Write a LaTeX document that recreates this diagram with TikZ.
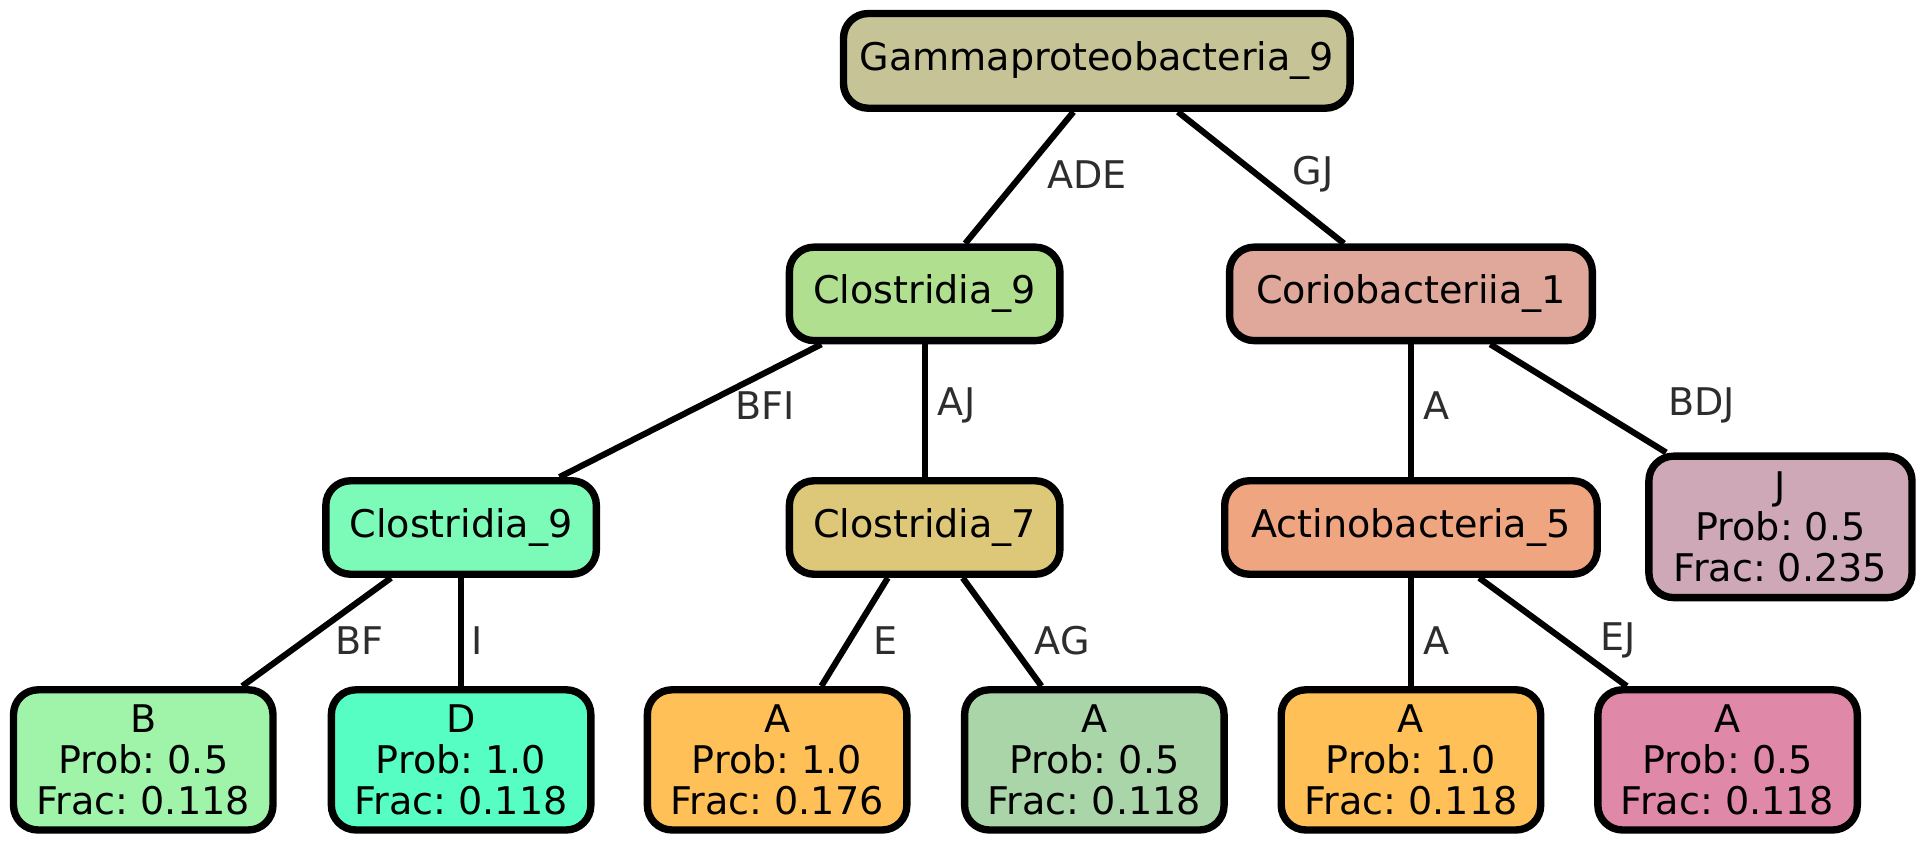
\documentclass[tikz,border=0pt]{standalone}
\usepackage{fontspec}
\setmainfont{DejaVu Sans}
\frenchspacing
\definecolor{cRoot}{RGB}{198,195,150}
\definecolor{cCloMid}{RGB}{176,223,144}
\definecolor{cCorio}{RGB}{224,168,154}
\definecolor{cCloLeft}{RGB}{124,250,184}
\definecolor{cClo7}{RGB}{221,200,122}
\definecolor{cActino}{RGB}{239,165,128}
\definecolor{cJ}{RGB}{207,168,184}
\definecolor{cB}{RGB}{160,244,170}
\definecolor{cD}{RGB}{87,254,196}
\definecolor{cOrange}{RGB}{255,192,87}
\definecolor{cGreen}{RGB}{170,213,168}
\definecolor{cPink}{RGB}{224,136,168}
\definecolor{labelgrey}{RGB}{45,45,45}
\begin{document}
\begin{tikzpicture}[x=1pt,y=-1pt,
  box/.style={draw=black, line width=6pt, rounded corners=20pt, inner sep=0pt,
    align=center, font=\fontsize{31}{33.5}\selectfont},
  inner/.style={box, minimum width=220pt, minimum height=76pt},
  leaf/.style={box, minimum width=211pt, minimum height=114pt},
  lbl/.style={text=labelgrey, font=\fontsize{31}{33.5}\selectfont, inner sep=0pt},
  link/.style={line width=5pt}]
\useasboundingbox (0,0) rectangle (1568,688);

% internal nodes
\node[box, fill=cRoot, minimum width=412pt, minimum height=77pt] (root) at (892,49.5) {Gammaproteobacteria\_9};
\node[inner, fill=cCloMid] (cmid) at (752,239) {Clostridia\_9};
\node[inner, fill=cCorio, minimum width=295pt] (corio) at (1147.5,239) {Coriobacteriia\_1};
\node[inner, fill=cCloLeft] (cleft) at (375,429) {Clostridia\_9};
\node[inner, fill=cClo7] (c7) at (752,429) {Clostridia\_7};
\node[inner, fill=cActino, minimum width=303pt] (actino) at (1147.5,429) {Actinobacteria\_5};

% leaves
\node[leaf, fill=cJ, minimum width=214pt, minimum height=115pt] (lJ) at (1448,428.5) {J\\Prob: 0.5\\Frac: 0.235};
\node[leaf, fill=cB] (lB) at (116.5,618) {B\\Prob: 0.5\\Frac: 0.118};
\node[leaf, fill=cD] (lD) at (375,618) {D\\Prob: 1.0\\Frac: 0.118};
\node[leaf, fill=cOrange] (lA1) at (632,618) {A\\Prob: 1.0\\Frac: 0.176};
\node[leaf, fill=cGreen] (lA2) at (890,618) {A\\Prob: 0.5\\Frac: 0.118};
\node[leaf, fill=cOrange] (lA3) at (1147.5,618) {A\\Prob: 1.0\\Frac: 0.118};
\node[leaf, fill=cPink] (lA4) at (1405,618) {A\\Prob: 0.5\\Frac: 0.118};

% connectors
\draw[link] ([xshift=-19pt]root.south) -- ([xshift=33pt]cmid.north);
\draw[link] ([xshift=66pt]root.south) -- ([xshift=-54.5pt]corio.north);
\draw[link] ([xshift=-84pt]cmid.south) -- ([xshift=80pt]cleft.north);
\draw[link] (cmid.south) -- (c7.north);
\draw[link] (corio.south) -- (actino.north);
\draw[link] ([xshift=64.5pt]corio.south) -- ([xshift=-93pt]lJ.north);
\draw[link] ([xshift=-57pt]cleft.south) -- ([xshift=80.5pt]lB.north);
\draw[link] (cleft.south) -- (lD.north);
\draw[link] ([xshift=-30pt]c7.south) -- ([xshift=36pt]lA1.north);
\draw[link] ([xshift=31pt]c7.south) -- ([xshift=-43pt]lA2.north);
\draw[link] (actino.south) -- (lA3.north);
\draw[link] ([xshift=55.5pt]actino.south) -- ([xshift=-82pt]lA4.north);

% connector labels
\node[lbl] (tADE) at (884,142) {ADE};
\node[lbl] (tGJ) at (1068,142) {GJ};
\node[lbl] (tBFI) at (622,330) {BFI};
\node[lbl] (tAJ) at (778,330) {AJ};
\node[lbl] (tA1) at (1168,330) {A};
\node[lbl] (tBDJ) at (1384,330) {BDJ};
\node[lbl] (tBF) at (292,521) {BF};
\node[lbl] (tI) at (388,521) {I};
\node[lbl] (tE) at (720,521) {E};
\node[lbl] (tAG) at (864,521) {AG};
\node[lbl] (tA2) at (1168,521) {A};
\node[lbl] (tEJ) at (1316,521) {EJ};
\end{tikzpicture}
\end{document}
